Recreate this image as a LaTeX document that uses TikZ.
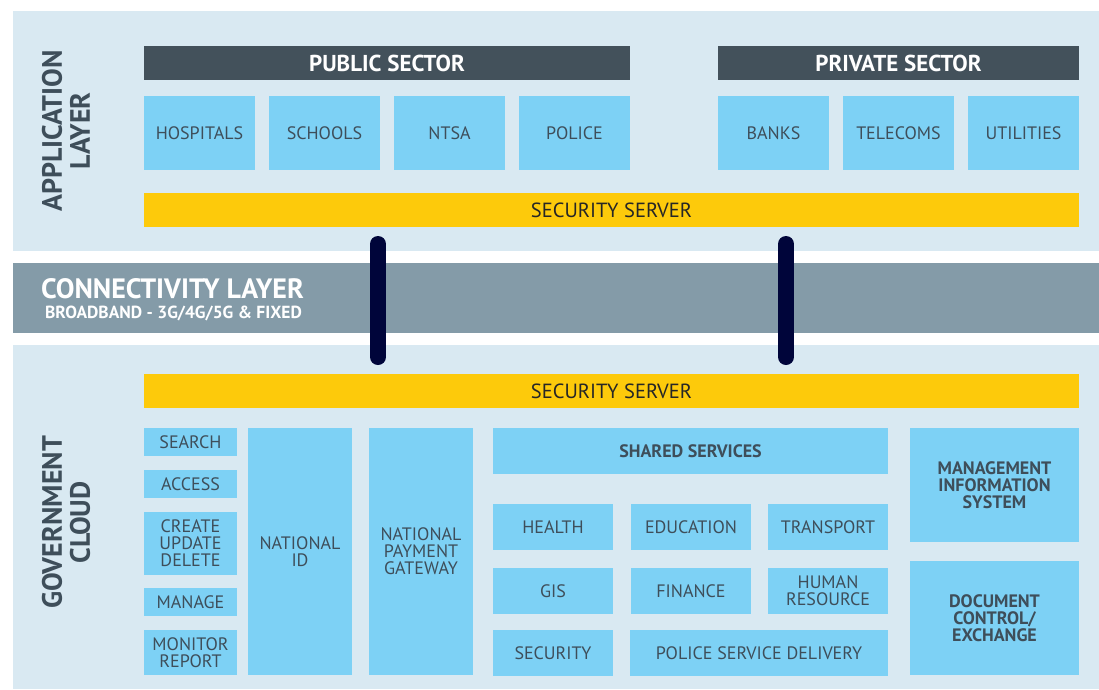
\documentclass[tikz,border=0pt]{standalone}
\usepackage{fontspec}
\setmainfont{PT Sans}
\usepackage{tikz}
\definecolor{panel}{HTML}{D9E9F2}
\definecolor{header}{HTML}{43515B}
\definecolor{unitblue}{HTML}{7DD1F5}
\definecolor{gold}{HTML}{FDCA0B}
\definecolor{band}{HTML}{849BA8}
\definecolor{navy}{HTML}{00053A}
\definecolor{labeltext}{HTML}{3E4E5A}
\tikzset{
  font={\fontsize{18pt}{17pt}\selectfont},
  every node/.style={inner sep=0pt, outer sep=0pt},
  layer/.style={fill=panel, anchor=north west},
  head/.style={fill=header, text=white, minimum height=34,
    font={\fontsize{23pt}{23pt}\selectfont\bfseries}},
  unit/.style={fill=unitblue, text=labeltext, align=center},
  bunit/.style={unit, font={\fontsize{18pt}{17pt}\selectfont\bfseries}},
  secure/.style={fill=gold, text=black!85, minimum width=935, minimum height=34,
    font={\fontsize{20.5pt}{20pt}\selectfont}},
  sidetitle/.style={rotate=90, align=center, text=labeltext,
    font={\fontsize{28pt}{28pt}\selectfont\bfseries}},
  link/.style={draw=navy, line width=16pt, line cap=round}}

\begin{document}
\begin{tikzpicture}[x=1pt,y=-1pt]
\useasboundingbox (0,0) rectangle (1099,689);
% application layer
\node[layer, minimum width=1086, minimum height=240] (applayer) at (13,11) {};
\node[sidetitle] (apptitle) at (66,131) {APPLICATION\\LAYER};
\node[head, minimum width=486] (public) at (387,63) {PUBLIC SECTOR};
\node[head, minimum width=361] (private) at (898.5,63) {PRIVATE SECTOR};
\node[unit, minimum width=111, minimum height=74] (hosp) at (199.5,133) {HOSPITALS};
\node[unit, minimum width=111, minimum height=74] (school) at (324.5,133) {SCHOOLS};
\node[unit, minimum width=111, minimum height=74] (ntsa) at (449.5,133) {NTSA};
\node[unit, minimum width=111, minimum height=74] (police) at (574.5,133) {POLICE};
\node[unit, minimum width=111, minimum height=74] (banks) at (773.5,133) {BANKS};
\node[unit, minimum width=111, minimum height=74] (telco) at (898.5,133) {TELECOMS};
\node[unit, minimum width=111, minimum height=74] (util) at (1023.5,133) {UTILITIES};
\node[secure] (secapp) at (611.5,210) {SECURITY SERVER};
% connectivity layer
\node[fill=band, minimum width=1086, minimum height=70, anchor=north west] (conn) at (13,263) {};
\node[anchor=base west, text=white, font={\fontsize{28pt}{28pt}\selectfont\bfseries}] (conntitle) at (41,298) {CONNECTIVITY LAYER};
\node[anchor=base west, text=white, font={\fontsize{17.5pt}{17pt}\selectfont\bfseries}] (connsub) at (45,318) {BROADBAND - 3G/4G/5G \& FIXED};
% government cloud
\node[layer, minimum width=1086, minimum height=344] (govlayer) at (13,345) {};
\node[sidetitle] (govtitle) at (66,522.5) {GOVERNMENT\\CLOUD};
\node[secure] (secgov) at (611.5,391) {SECURITY SERVER};
\node[unit, minimum width=93, minimum height=28] (search) at (190.5,442) {SEARCH};
\node[unit, minimum width=93, minimum height=28] (access) at (190.5,484) {ACCESS};
\node[unit, minimum width=93, minimum height=63] (crud) at (190.5,543.5) {CREATE\\UPDATE\\DELETE};
\node[unit, minimum width=93, minimum height=28] (manage) at (190.5,602) {MANAGE};
\node[unit, minimum width=93, minimum height=45] (monitor) at (190.5,652.5) {MONITOR\\REPORT};
\node[unit, minimum width=104, minimum height=247] (natid) at (300,551.5) {NATIONAL\\ID};
\node[unit, minimum width=104, minimum height=247] (npg) at (421,551.5) {NATIONAL\\PAYMENT\\GATEWAY};
\node[bunit, minimum width=395, minimum height=46] (shared) at (690.5,451) {SHARED SERVICES};
\node[unit, minimum width=120, minimum height=46] (health) at (553,527) {HEALTH};
\node[unit, minimum width=120, minimum height=46] (edu) at (691,527) {EDUCATION};
\node[unit, minimum width=120, minimum height=46] (transport) at (828,527) {TRANSPORT};
\node[unit, minimum width=120, minimum height=46] (gis) at (553,591) {GIS};
\node[unit, minimum width=120, minimum height=46] (finance) at (691,591) {FINANCE};
\node[unit, minimum width=120, minimum height=46] (hr) at (828,591) {HUMAN\\RESOURCE};
\node[unit, minimum width=120, minimum height=46] (security) at (553,653) {SECURITY};
\node[unit, minimum width=258, minimum height=46] (psd) at (759,653) {POLICE SERVICE DELIVERY};
\node[bunit, minimum width=169, minimum height=114] (mis) at (994.5,485) {MANAGEMENT\\INFORMATION\\SYSTEM};
\node[bunit, minimum width=169, minimum height=114] (doc) at (994.5,618) {DOCUMENT\\CONTROL/\\EXCHANGE};
% links through the connectivity layer
\draw[link] ([xshift=-233.5pt,yshift=-17pt]secapp.south) -- ([xshift=-233.5pt,yshift=17pt]secgov.north);
\draw[link] ([xshift=174.5pt,yshift=-17pt]secapp.south) -- ([xshift=174.5pt,yshift=17pt]secgov.north);
\end{tikzpicture}
\end{document}
